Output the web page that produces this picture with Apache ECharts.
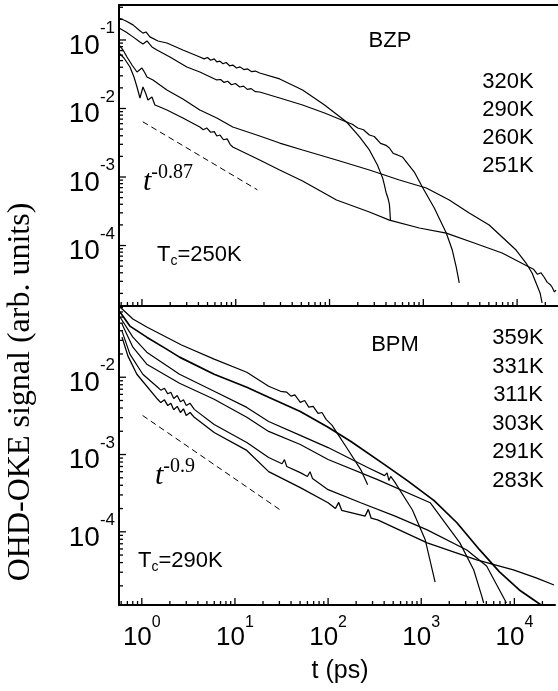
<!DOCTYPE html>
<html>
<head>
<meta charset="utf-8">
<script src="https://cdn.jsdelivr.net/npm/echarts@6/dist/echarts.min.js"></script>
<style>
  html, body { margin: 0; padding: 0; background: #fff; }
  #chart { width: 558px; height: 691px; }
</style>
</head>
<body>
<div id="chart"></div>
<script>
// ---- axis ranges (t in ps, signal in arb. units) ----
const tRange = [0.569, 27300];
const bzpRange = [1.31e-5, 0.324];
const bpmRange = [1.13e-5, 0.0835];

// ---- BZP decays, [t, signal] ----
const bzp320 = [[0.569,0.209],[0.676,0.189],[0.802,0.166],[0.929,0.140],[1.025,0.126],[1.103,0.131],[1.216,0.111],[1.48,0.0967],[1.845,0.0904],[2.73,0.0714],[4.14,0.0565],[4.6,0.0530],[5.0,0.0555],[5.4,0.0505],[5.9,0.0530],[6.28,0.0478],[6.8,0.0490],[7.3,0.0450],[7.9,0.0470],[8.6,0.0420],[9.29,0.0430],[10.2,0.0390],[11.1,0.0405],[12.2,0.0370],[13.4,0.0378],[14.8,0.0345],[16.2,0.0352],[18.0,0.0330],[29.4,0.0270],[51.6,0.0186],[88.5,0.01125],[152,0.00635],[209,0.00384],[266,0.00248],[324,0.0015],[350,0.00115],[370,0.00095],[385,7.6e-4],[400,6.0e-4],[420,4.9e-4],[435,4.0e-4],[440,3.2e-4],[446,2.35e-4]];
const bzp290 = [[0.569,0.150],[0.676,0.131],[0.802,0.111],[0.952,0.0935],[1.025,0.0874],[1.13,0.0967],[1.278,0.0791],[1.444,0.0714],[1.986,0.0565],[3.01,0.0403],[4.14,0.0341],[6.28,0.0261],[6.9,0.0265],[7.5,0.0240],[8.2,0.0250],[9.0,0.0222],[9.9,0.0232],[11.03,0.0206],[12.1,0.0212],[13.3,0.0190],[14.6,0.0195],[16.2,0.0176],[18.0,0.0174],[29.4,0.01423],[51.6,0.01125],[88.5,0.00859],[152,0.00635],[175,0.0059],[200,0.0052],[230,0.0049],[266,0.0041],[300,0.0039],[350,0.0031],[400,0.0029],[435,0.00265],[480,0.0022],[530,0.0021],[598,0.00196],[802,0.00118],[976,7.15e-4],[1309,3.52e-4],[1757,1.52e-4],[2036,8.59e-5],[2245,4.85e-5],[2416,2.84e-5]];
const bzp260 = [[0.569,0.0845],[0.628,0.0714],[0.692,0.0565],[0.783,0.0431],[0.885,0.0341],[1.0,0.0390],[1.076,0.0330],[1.13,0.0288],[1.31,0.0261],[1.555,0.0220],[1.845,0.0186],[2.73,0.01377],[4.14,0.00951],[6.28,0.00726],[9.29,0.00537],[18.0,0.00397],[29.4,0.00313],[51.6,0.00248],[118.7,0.00177],[266,0.001264],[555,9.04e-4],[1076,6.91e-4],[1891,4.61e-4],[3085,2.98e-4],[5034,1.99e-4],[6921,1.33e-4],[9752,8.59e-5],[12460,5.55e-5],[14440,3.97e-5],[15930,2.84e-5],[17580,2.03e-5],[18470,1.45e-5]];
const bzp251 = [[0.569,0.0646],[0.643,0.0546],[0.745,0.0403],[0.822,0.0288],[0.885,0.0206],[0.952,0.01423],[1.025,0.0206],[1.103,0.0163],[1.158,0.0133],[1.278,0.01472],[1.375,0.01125],[1.555,0.01051],[1.845,0.00951],[2.73,0.00726],[4.14,0.00537],[4.5,0.0049],[4.9,0.0052],[5.4,0.0045],[5.9,0.0046],[6.28,0.00397],[6.8,0.0041],[7.4,0.0035],[8.1,0.0036],[8.7,0.0030],[9.29,0.00274],[18.0,0.00177],[29.4,0.001264],[51.6,8.75e-4],[118.7,4.61e-4],[266,3.08e-4],[435,2.35e-4],[906,1.80e-4],[1757,1.52e-4],[3490,1.087e-4],[6921,7.78e-5],[13420,4.85e-5],[15000,4.5e-5],[16500,3.8e-5],[18000,4.0e-5],[19370,3.47e-5],[21000,2.9e-5],[22500,2.7e-5],[23560,2.48e-5],[25000,2.1e-5],[25990,2.24e-5]];

// ---- BPM decays, [t, signal] ----
const bpm359 = [[0.583,0.0811],[0.802,0.0566],[1.13,0.0446],[1.845,0.0330],[2.67,0.0261],[5.98,0.01714],[13.4,0.01161],[23.0,0.00764],[30.9,0.00658],[36,0.0064],[40,0.0057],[44,0.0059],[50.3,0.00473],[56,0.0050],[62,0.0041],[69.2,0.0042],[78,0.0034],[86,0.0035],[95.2,0.00285],[110,0.0024],[127.7,0.00182],[163,0.00116],[224,6.38e-4],[266,4.07e-4]];
const bpm331 = [[0.583,0.0698],[0.745,0.0459],[1.13,0.0330],[1.845,0.0231],[2.54,0.0182],[5.98,0.01094],[13.4,0.00741],[23.0,0.0055],[50.3,0.00361],[100,0.00225],[176,0.001476],[404,7.41e-4],[710,4.59e-4],[1375,2.53e-4],[2416,1.31e-4],[4246,5.83e-5],[6921,3.03e-5],[11300,1.77e-5],[19370,1.13e-5]];
const bpm311 = [[0.583,0.0601],[0.802,0.0330],[1.13,0.0211],[2.54,0.01094],[5.98,0.00658],[13.4,0.00407],[23.0,0.00268],[50.3,0.00177],[100,0.00123],[266,6.78e-4],[404,5.33e-4],[430,5.8e-4],[450,4.6e-4],[470,5.2e-4],[516,4.46e-4],[802,1.93e-4],[1104,7.87e-5],[1409,2.24e-5]];
const bpm303 = [[0.613,0.0488],[0.802,0.0245],[1.13,0.01475],[2.54,0.00836],[5.98,0.00518],[13.4,0.00303],[23.0,0.00199],[50.3,0.00135],[100,8.61e-4],[340,4.73e-4],[1247,2.38e-4],[2600,7.19e-5],[3664,3.21e-5],[4456,1.48e-5],[4680,1.20e-5]];
const bpm291 = [[0.613,0.0395],[0.745,0.0199],[1.025,0.01094],[1.48,0.00741],[1.6,0.0068],[1.75,0.0072],[1.9,0.0061],[2.05,0.0064],[2.2,0.0053],[2.4,0.0058],[2.6,0.0048],[2.8,0.0051],[3.0,0.0043],[3.3,0.0046],[3.66,0.00384],[5.98,0.00245],[13.4,0.00143],[23.0,9.14e-4],[32,7.6e-4],[34,8.6e-4],[36,7.0e-4],[50.3,5.83e-4],[60,5.2e-4],[64,6.0e-4],[68,4.9e-4],[100,3.51e-4],[224,2.38e-4],[516,1.61e-4],[1158,1.06e-4],[3085,5.83e-5],[5034,3.61e-5],[6921,1.77e-5],[8220,1.20e-5]];
const bpm283 = [[0.613,0.0330],[0.710,0.01875],[0.885,0.01094],[1.48,0.00518],[1.6,0.0047],[1.75,0.0051],[1.9,0.0043],[2.05,0.0046],[2.2,0.0038],[2.4,0.0042],[2.6,0.0035],[2.8,0.0039],[3.0,0.0032],[3.3,0.0035],[3.66,0.00303],[5.98,0.00193],[13.4,0.00113],[23.0,6.01e-4],[50.3,3.73e-4],[100,2.38e-4],[120,2.0e-4],[130,2.4e-4],[140,1.9e-4],[250,1.6e-4],[270,1.95e-4],[290,1.5e-4],[340,1.43e-4],[1158,7.19e-5],[3944,4.32e-5],[9752,3.21e-5],[17140,2.53e-5],[26650,2.05e-5]];

// ---- power-law guides ----
const guideBzp = [[1.02,0.0064],[17,6.5e-4]];
const guideBpm = [[1.02,0.0032],[31.6,1.87e-4]];

// ---- labels ----
const bzpTemps = ['320K','290K','260K','251K'];
const bpmTemps = ['359K','331K','311K','303K','291K','283K'];

// ---- tick values ----
function decadeTicks(lo, hi) {
  const major = [], minor = [];
  for (let e = Math.floor(Math.log10(lo)); e <= Math.ceil(Math.log10(hi)); e++) {
    for (let m = 1; m <= 9; m++) {
      const v = m * Math.pow(10, e);
      if (v < lo || v > hi) continue;
      (m === 1 ? major : minor).push(v);
    }
  }
  return { major, minor };
}
const tTicks = decadeTicks(tRange[0], tRange[1]);
const bzpTicks = decadeTicks(bzpRange[0], bzpRange[1]);
const bpmTicks = decadeTicks(bpmRange[0], bpmRange[1]);

const SANS = '"Liberation Sans", Arial, sans-serif';
const SERIF = '"Liberation Serif", "Times New Roman", serif';

function powLabel(fs, sfs, raise) {
  return {
    formatter: function (v) {
      const e = Math.log10(v), r = Math.round(e);
      if (Math.abs(e - r) > 1e-6) return '';
      return '{b|10}{s|' + r + '}';
    },
    rich: {
      b: { fontSize: fs, fontFamily: SANS, color: '#000', lineHeight: fs + raise, verticalAlign: 'bottom' },
      s: { fontSize: sfs, fontFamily: SANS, color: '#000', lineHeight: 10, verticalAlign: 'top' }
    }
  };
}

const chart = echarts.init(document.getElementById('chart'), null, { renderer: 'canvas' });

function curve(data, xi, yi, w) {
  return {
    type: 'line', data: data, xAxisIndex: xi, yAxisIndex: yi,
    showSymbol: false, symbol: 'none', silent: true, animation: false,
    lineStyle: { color: '#000', width: w || 1.2 }, z: 3
  };
}
function guide(data, xi, yi) {
  return {
    type: 'line', data: data, xAxisIndex: xi, yAxisIndex: yi,
    showSymbol: false, symbol: 'none', silent: true, animation: false,
    lineStyle: { color: '#000', width: 1, type: [6, 4] }
  };
}
// tick marks drawn inward from the axes
function xTicks(vals, yMin, len, xi, yi) {
  return {
    type: 'custom', xAxisIndex: xi, yAxisIndex: yi, silent: true, animation: false, z: 5,
    data: vals.map(v => [v, yMin]),
    renderItem: function (params, api) {
      const p = api.coord([api.value(0), api.value(1)]);
      return { type: 'line', shape: { x1: p[0], y1: p[1], x2: p[0], y2: p[1] - len },
               style: { stroke: '#000', lineWidth: 1.3 } };
    }
  };
}
function yTicks(vals, xMin, len, xi, yi) {
  return {
    type: 'custom', xAxisIndex: xi, yAxisIndex: yi, silent: true, animation: false, z: 5,
    data: vals.map(v => [xMin, v]),
    renderItem: function (params, api) {
      const p = api.coord([api.value(0), api.value(1)]);
      return { type: 'line', shape: { x1: p[0], y1: p[1], x2: p[0] + len, y2: p[1] },
               style: { stroke: '#000', lineWidth: 1.3 } };
    }
  };
}

const axisLine = { show: true, lineStyle: { color: '#000', width: 2 } };

function txt(text, x, y, opts) {
  return {
    type: 'text', x: x, y: y, silent: true, z: 10,
    style: Object.assign({ text: text, fill: '#000', font: '22px ' + SANS,
                           textAlign: 'center', textVerticalAlign: 'middle' }, opts || {})
  };
}
const tempX = 508;
const graphics = [
  txt('BZP', 390, 41),
  txt('BPM', 395, 345),
  ...bzpTemps.map((s, i) => txt(s, tempX, 82 + i * 28)),
  ...bpmTemps.map((s, i) => txt(s, tempX + 10, 338 + i * 28.6)),
  txt('{a|T}{c|c}{a|=250K}', 157, 255, {
    textAlign: 'left',
    rich: { a: { fontSize: 22, fontFamily: SANS, lineHeight: 26 },
            c: { fontSize: 14, fontFamily: SANS, lineHeight: 12, verticalAlign: 'bottom' } } }),
  txt('{a|T}{c|c}{a|=290K}', 138, 561, {
    textAlign: 'left',
    rich: { a: { fontSize: 22, fontFamily: SANS, lineHeight: 26 },
            c: { fontSize: 14, fontFamily: SANS, lineHeight: 12, verticalAlign: 'bottom' } } }),
  txt('{t|t}{e|-0.87}', 143, 180, {
    textAlign: 'left',
    rich: { t: { fontSize: 30, fontFamily: SERIF, fontStyle: 'italic', lineHeight: 34, verticalAlign: 'bottom' },
            e: { fontSize: 20, fontFamily: SERIF, lineHeight: 16, verticalAlign: 'top' } } }),
  txt('{t|t}{e|-0.9}', 155, 474, {
    textAlign: 'left',
    rich: { t: { fontSize: 30, fontFamily: SERIF, fontStyle: 'italic', lineHeight: 34, verticalAlign: 'bottom' },
            e: { fontSize: 20, fontFamily: SERIF, lineHeight: 16, verticalAlign: 'top' } } }),
  txt('t (ps)', 340, 671, { font: '25px ' + SANS }),
  {
    type: 'text', x: 21, y: 392, rotation: Math.PI / 2, silent: true,
    style: { text: 'OHD-OKE signal (arb. units)', fill: '#000', font: '32px ' + SERIF,
             textAlign: 'center', textVerticalAlign: 'middle' }
  }
];

const option = {
  animation: false,
  backgroundColor: '#fff',
  grid: [
    { left: 119, top: 5, width: 439, height: 301 },
    { left: 119, top: 306, width: 439, height: 299 }
  ],
  xAxis: [
    { type: 'log', gridIndex: 0, min: tRange[0], max: tRange[1], axisLine: axisLine,
      axisTick: { show: false }, axisLabel: { show: false }, splitLine: { show: false } },
    { type: 'log', gridIndex: 1, min: tRange[0], max: tRange[1], axisLine: axisLine,
      axisTick: { show: false }, splitLine: { show: false },
      axisLabel: Object.assign({ margin: 10 }, powLabel(26, 16, 10)) },
    { type: 'log', gridIndex: 0, position: 'top', min: tRange[0], max: tRange[1], axisLine: axisLine,
      axisTick: { show: false }, axisLabel: { show: false }, splitLine: { show: false } }
  ],
  yAxis: [
    { type: 'log', gridIndex: 0, min: bzpRange[0], max: bzpRange[1], axisLine: axisLine,
      axisTick: { show: false }, splitLine: { show: false },
      axisLabel: Object.assign({ margin: 4 }, powLabel(28, 17, 12)) },
    { type: 'log', gridIndex: 1, min: bpmRange[0], max: bpmRange[1], axisLine: axisLine,
      axisTick: { show: false }, splitLine: { show: false },
      axisLabel: Object.assign({ margin: 4 }, powLabel(28, 17, 12)) }
  ],
  series: [
    curve(bzp320, 0, 0), curve(bzp290, 0, 0), curve(bzp260, 0, 0), curve(bzp251, 0, 0),
    guide(guideBzp, 0, 0),
    curve(bpm359, 1, 1), curve(bpm331, 1, 1, 1.7), curve(bpm311, 1, 1), curve(bpm303, 1, 1),
    curve(bpm291, 1, 1), curve(bpm283, 1, 1, 1.3),
    guide(guideBpm, 1, 1),
    xTicks(tTicks.major, bzpRange[0], 7, 0, 0), xTicks(tTicks.minor, bzpRange[0], 4, 0, 0),
    xTicks(tTicks.major, bpmRange[0], 7, 1, 1), xTicks(tTicks.minor, bpmRange[0], 4, 1, 1),
    yTicks(bzpTicks.major, tRange[0], 7, 0, 0), yTicks(bzpTicks.minor, tRange[0], 4, 0, 0),
    yTicks(bpmTicks.major, tRange[0], 7, 1, 1), yTicks(bpmTicks.minor, tRange[0], 4, 1, 1)
  ],
  graphic: graphics
};
chart.setOption(option);
</script>
</body>
</html>
